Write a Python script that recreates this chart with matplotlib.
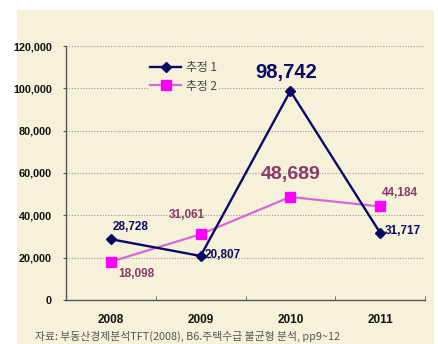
import matplotlib
matplotlib.use("Agg")
import matplotlib.pyplot as plt
from matplotlib.patches import Rectangle
from matplotlib.ticker import FixedLocator, FuncFormatter

years = ["2008", "2009", "2010", "2011"]
est1 = [28728, 20807, 98742, 31717]
est2 = [18098, 31061, 48689, 44184]
series_names = ["추정 1", "추정 2"]
yticks = [0, 20000, 40000, 60000, 80000, 100000, 120000]
caption = "자료: 부동산경제분석TFT(2008), B6.주택수급 불균형 분석, pp9~12"

W, H = 438, 344
fig = plt.figure(figsize=(W / 100, H / 100), dpi=100)
fig.patch.set_facecolor("white")
fig.patches.append(Rectangle((17 / W, 0), (434 - 17) / W, (344 - 10) / H,
                             transform=fig.transFigure, facecolor="#F6F1D9",
                             edgecolor="none", zorder=-10))

ax = fig.add_axes([66 / W, 44 / H, 359 / W, 254 / H])
ax.set_facecolor("none")

x = list(range(len(years)))
navy = "#0A0A66"
mag_line = "#D966D9"
mag_mark = "#FF00FF"
maroon = "#8A3A68"

l1, = ax.plot(x, est1, color=navy, lw=1.7, marker="D", ms=5, mfc=navy, mec=navy,
              label=series_names[0], zorder=4)
l2, = ax.plot(x, est2, color=mag_line, lw=1.6, marker="s", ms=7, mfc=mag_mark, mec=mag_mark,
              label=series_names[1], zorder=3)

ax.set_xlim(-0.5, len(years) - 0.5)
ax.set_ylim(0, 120000)
ax.set_yticks(yticks)
ax.yaxis.set_major_formatter(FuncFormatter(lambda v, p: f"{int(v):,}"))
ax.set_xticks(x)
ax.set_xticklabels(years)
ax.xaxis.set_minor_locator(FixedLocator([i - 0.5 for i in range(len(years) + 1)]))
ax.tick_params(axis="x", which="major", length=0, pad=10)
ax.tick_params(axis="x", which="minor", length=3, direction="in", color="#555555")
ax.tick_params(axis="y", length=2, color="#555555", pad=8)

numfont = ["Liberation Sans", "Noto Sans CJK KR"]
for lab in ax.get_xticklabels():
    lab.set_fontfamily(numfont)
    lab.set_fontweight("bold")
    lab.set_fontsize(8.5)
    lab.set_color("#111111")
for lab in ax.get_yticklabels():
    lab.set_fontfamily(numfont)
    lab.set_fontweight("bold")
    lab.set_fontsize(7.8)
    lab.set_color("#111111")

for s in ["top", "right"]:
    ax.spines[s].set_visible(False)
for s in ["left", "bottom"]:
    ax.spines[s].set_color("#555555")
    ax.spines[s].set_linewidth(1.0)

for v in yticks[1:]:
    ax.axhline(v, color="#999999", lw=0.8, ls=(0, (1, 1.5)), zorder=1)

def lab(i, v, txt, dx, dy, color, size, ha="center"):
    ax.annotate(txt, (x[i], v), xytext=(dx, dy), textcoords="offset points",
                ha=ha, va="center", color=color, fontsize=size, fontweight="bold",
                fontfamily=numfont, zorder=5)

lab(0, est1[0], f"{est1[0]:,}", 14, 9, navy, 8.5)
lab(1, est1[1], f"{est1[1]:,}", 3, 1, navy, 8.5, ha="left")
lab(2, est1[2], f"{est1[2]:,}", -3, 13, navy, 14.5)
lab(3, est1[3], f"{est1[3]:,}", 3, 1, navy, 8.5, ha="left")
lab(0, est2[0], f"{est2[0]:,}", 18, -9, maroon, 8.5)
lab(1, est2[1], f"{est2[1]:,}", -10, 14, maroon, 8.5)
ax.annotate(f"{est2[2]:,}", (x[2], 60000), xytext=(0, -1), textcoords="offset points",
            ha="center", va="center", color=maroon, fontsize=14, fontweight="bold",
            fontfamily=numfont, zorder=5)
lab(3, est2[3], f"{est2[3]:,}", 14, 10, maroon, 8.5)

leg = ax.legend(handles=[l1, l2], loc="upper left", bbox_to_anchor=(76 / 359, 247 / 254),
                frameon=True, facecolor="#F6F1D9", edgecolor="none", framealpha=1,
                prop={"family": ["Noto Sans CJK KR", "DejaVu Sans"], "size": 8.5},
                handlelength=2.6, handletextpad=0.4, borderpad=0.2, labelspacing=0.45)
for t in leg.get_texts():
    t.set_color("#444444")

fig.text(35 / W, (344 - 336) / H, caption, ha="left", va="center", fontsize=7.8,
         color="#555555", fontfamily=["Noto Sans CJK KR", "DejaVu Sans"])

fig.savefig("out.png", dpi=100)
